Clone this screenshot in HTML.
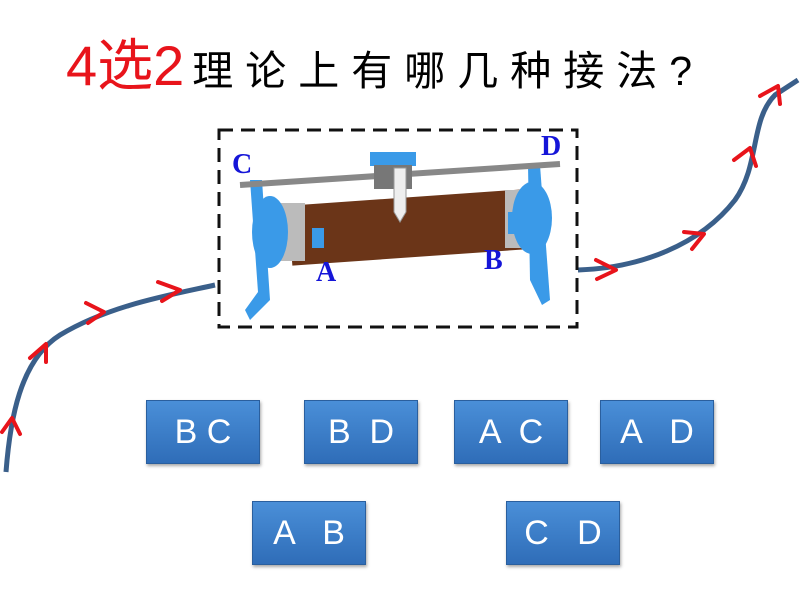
<!DOCTYPE html>
<html><head><meta charset="utf-8"><style>
body{margin:0;width:800px;height:600px;background:#fff;overflow:hidden;position:relative;font-family:"Liberation Sans","Noto Sans CJK SC",sans-serif}
.t{position:absolute;top:34px;left:66px;white-space:nowrap;line-height:64px}
.btn{position:absolute;width:112px;height:62px;background:linear-gradient(#4a8fd8,#2f6db8);border:1px solid #2a5f9e;box-shadow:1px 2px 3px rgba(0,0,0,.35);color:#fff;font-size:34px;display:flex;align-items:center;justify-content:center;white-space:pre}
</style></head><body>
<div class="t"><span style="color:#e8141b;font-size:56px">4选2</span><span style="letter-spacing:12px;font-size:41px;margin-left:8px">理论上有哪几种接法?</span></div>
<svg width="800" height="600" style="position:absolute;left:0;top:0">
<path d="M6,472 C10,420 20,360 60,335 C110,305 170,295 215,285" fill="none" stroke="#3a5f8a" stroke-width="5"/>
<path d="M578,270 C640,268 700,245 735,200 C760,165 750,120 775,95 L798,80" fill="none" stroke="#3a5f8a" stroke-width="5"/>
<g stroke="#e8141b" stroke-width="4" fill="none" stroke-linecap="round" stroke-linejoin="round">
<path d="M2,432 L12,418 L20,434"/><path d="M30,358 L46,344 L46,362"/>
<path d="M86,303 L104,312 L88,323"/><path d="M158,282 L180,290 L162,301"/>
<path d="M596,260 L616,270 L597,279"/><path d="M684,232 L704,234 L692,249"/>
<path d="M734,160 L750,148 L756,166"/><path d="M760,96 L778,86 L780,104"/>
</g>
<rect x="219" y="130" width="358" height="197" fill="none" stroke="#111" stroke-width="3" stroke-dasharray="14,8"/>
<rect x="290" y="198" width="235" height="60" fill="#6b3518" transform="rotate(-4 400 228)"/>
<rect x="265" y="203" width="40" height="58" fill="#bbb"/>
<rect x="505" y="190" width="35" height="58" fill="#bbb"/>
<ellipse cx="270" cy="232" rx="18" ry="36" fill="#3a9ae8"/>
<ellipse cx="532" cy="218" rx="20" ry="36" fill="#3a9ae8"/>
<path d="M250,180 L262,180 L270,300 L250,320 L245,310 L258,292 Z" fill="#3a9ae8"/>
<path d="M528,165 L540,165 L550,300 L542,305 L530,280 Z" fill="#3a9ae8"/>
<line x1="240" y1="185" x2="560" y2="164" stroke="#888" stroke-width="6"/>
<rect x="370" y="152" width="46" height="14" fill="#3a9ae8"/>
<rect x="374" y="165" width="38" height="24" fill="#777"/>
<path d="M394,168 L406,168 L406,212 L400,222 L394,212 Z" fill="#eee" stroke="#999"/>
<rect x="312" y="228" width="12" height="20" fill="#3a9ae8"/><rect x="508" y="212" width="12" height="22" fill="#3a9ae8"/>
<g fill="#1515d8" font-family="Liberation Serif" font-weight="bold" font-size="28">
<text x="232" y="173">C</text><text x="541" y="155">D</text><text x="316" y="281">A</text><text x="484" y="269">B</text></g>
</svg>
<div class="btn" style="left:146px;top:400px">B C</div>
<div class="btn" style="left:304px;top:400px">B  D</div>
<div class="btn" style="left:454px;top:400px">A  C</div>
<div class="btn" style="left:600px;top:400px">A   D</div>
<div class="btn" style="left:252px;top:501px">A   B</div>
<div class="btn" style="left:506px;top:501px">C   D</div>
</body></html>
